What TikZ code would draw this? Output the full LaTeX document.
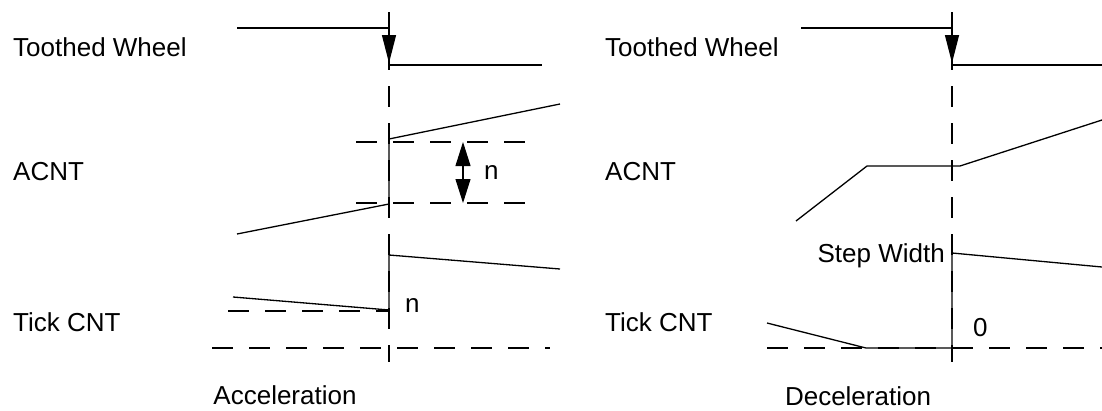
\documentclass[tikz,border=0pt]{standalone}
\usepackage{fontspec}
\setmainfont{Liberation Sans}
\usetikzlibrary{arrows.meta}
\begin{document}
\begin{tikzpicture}[x=1pt,y=-1pt,
  sig/.style={line width=1.3pt, line join=miter},
  guide/.style={line width=1.1pt, dash pattern=on 21pt off 16pt},
  lbl/.style={inner sep=0pt, font=\fontsize{26}{30}\selectfont},
  droptip/.style={line width=1.3pt, -{Triangle[length=28pt,width=14pt]}},
  dimtip/.style={line width=1.1pt, {Triangle[length=24pt,width=15pt]}-{Triangle[length=24pt,width=15pt]}},
  ]
\useasboundingbox (0,0) rectangle (1102,410);

% ---------- left panel: Acceleration ----------
\node[lbl, anchor=base west] (lTW)   at (13,56)  {Toothed Wheel};
\node[lbl, anchor=base west] (lACNT) at (13,180) {ACNT};
\node[lbl, anchor=base west] (lTick) at (13,331) {Tick CNT};
\node[lbl, anchor=base]      (lAcc)  at (285,404) {Acceleration};
\node[lbl, anchor=base west] (lN1)   at (484,179) {n};
\node[lbl, anchor=base west] (lN2)   at (405,312) {n};

\coordinate (LvT) at (389,12);
\coordinate (LvB) at (389,362);
\draw[guide] (LvT) -- (LvB);

% toothed wheel
\coordinate (LW0) at (237,28);
\coordinate (LW1) at (389,28);
\coordinate (LW2) at (389,63);
\coordinate (LW3) at (389,65);
\coordinate (LW4) at (542,65);
\draw[sig] (LW0) -- (LW1);
\draw[droptip] (LW1) -- (LW2);
\draw[sig] (LW3) -- (LW4);

% ACNT
\coordinate (LA0) at (237,234);
\coordinate (LA1) at (389,204);
\coordinate (LA2) at (389,139);
\coordinate (LA3) at (560,104);
\draw[sig] (LA0) -- (LA1) -- (LA2) -- (LA3);
\coordinate (LDa0) at (356,142);
\coordinate (LDa1) at (526,142);
\coordinate (LDb0) at (356,203);
\coordinate (LDb1) at (526,203);
\draw[guide] (LDa0) -- (LDa1);
\draw[guide] (LDb0) -- (LDb1);
\coordinate (LNt) at (463,142);
\coordinate (LNb) at (463,203);
\draw[dimtip] (LNt) -- (LNb);

% Tick CNT
\coordinate (LT0) at (233,297);
\coordinate (LT1) at (389,310);
\coordinate (LT2) at (389,255);
\coordinate (LT3) at (560,269);
\draw[sig] (LT0) -- (LT1) -- (LT2) -- (LT3);
\coordinate (LTd0) at (228,311);
\coordinate (LTd1) at (389,311);
\draw[guide] (LTd0) -- (LTd1);
\coordinate (LZ0) at (212,348);
\coordinate (LZ1) at (550,348);
\draw[guide] (LZ0) -- (LZ1);

% ---------- right panel: Deceleration ----------
\node[lbl, anchor=base west] (rTW)   at (605,56)  {Toothed Wheel};
\node[lbl, anchor=base west] (rACNT) at (605,180) {ACNT};
\node[lbl, anchor=base west] (rTick) at (605,331) {Tick CNT};
\node[lbl, anchor=base]      (rDec)  at (858,405) {Deceleration};
\node[lbl, anchor=base east] (rSW)   at (945,262) {Step Width};
\node[lbl, anchor=base west] (rZero) at (973,336) {0};

\coordinate (RvT) at (952,12);
\coordinate (RvB) at (952,362);
\draw[guide] (RvT) -- (RvB);

% toothed wheel
\coordinate (RW0) at (801,28);
\coordinate (RW1) at (952,28);
\coordinate (RW2) at (952,63);
\coordinate (RW3) at (952,65);
\coordinate (RW4) at (1102,65);
\draw[sig] (RW0) -- (RW1);
\draw[droptip] (RW1) -- (RW2);
\draw[sig] (RW3) -- (RW4);

% ACNT
\coordinate (RA0) at (796,221);
\coordinate (RA1) at (867,166);
\coordinate (RA2) at (960,166);
\coordinate (RA3) at (1102,120);
\draw[sig] (RA0) -- (RA1) -- (RA2) -- (RA3);

% Tick CNT
\coordinate (RZ0) at (767,348);
\coordinate (RZ1) at (1102,348);
\draw[guide] (RZ0) -- (RZ1);
\coordinate (RT0) at (767,323);
\coordinate (RT1) at (866,348);
\coordinate (RT2) at (952,348);
\coordinate (RT3) at (952,253);
\coordinate (RT4) at (1102,267);
\draw[sig] (RT0) -- (RT1) -- (RT2) -- (RT3) -- (RT4);
\end{tikzpicture}
\end{document}
